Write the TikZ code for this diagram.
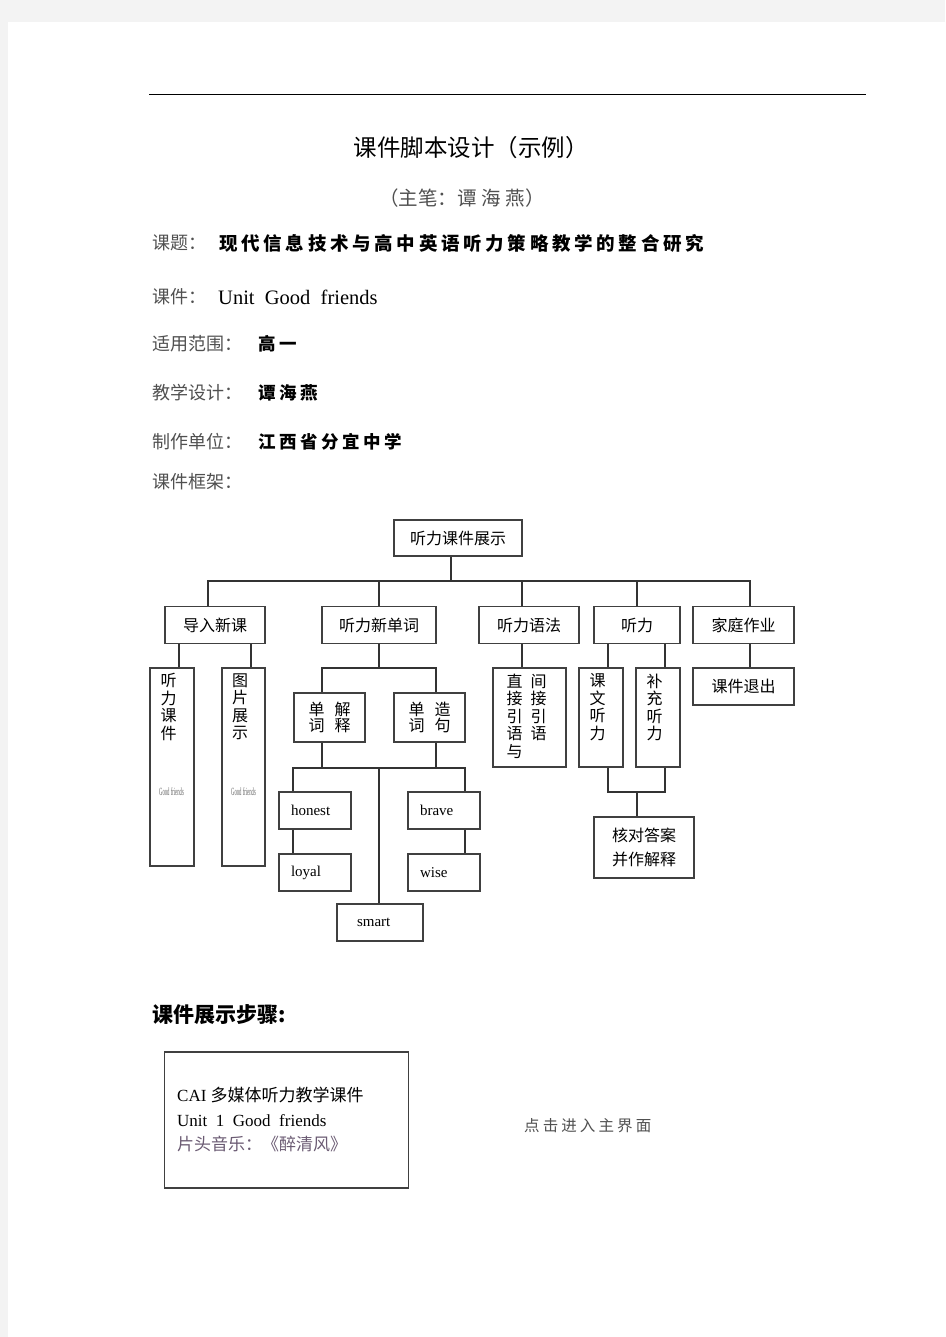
\documentclass[tikz,border=0pt]{standalone}
\usepackage{fontspec}
\setmainfont{Liberation Serif}
\newfontfamily\cjk{Noto Sans CJK SC}
\newfontfamily\cjkwide[LetterSpace=20]{Noto Sans CJK SC}
\usetikzlibrary{shadows}
\definecolor{pagegray}{HTML}{F3F3F3}
\definecolor{labelgray}{HTML}{505050}
\definecolor{linegray}{HTML}{404040}
\definecolor{musicpurple}{HTML}{6B5B73}
\newcommand{\fsz}[1]{\fontsize{#1}{#1}\selectfont}

\begin{document}
\begin{tikzpicture}[x=1pt,y=-1pt,
  unitbox/.style={draw=linegray, line width=1.2pt, fill=white, inner sep=0pt, font=\cjk\fsz{16}},
  tallbox/.style={unitbox, drop shadow={shadow xshift=0.9pt, shadow yshift=-1.3pt, fill=black!75, opacity=1}},
  wordbox/.style={unitbox, font=\fsz{15}, align=left, text width=48pt, inner xsep=12pt, minimum height=37pt},
  vtext/.style={font=\cjk\fontsize{16}{17.5}\selectfont, align=center, inner sep=0pt, anchor=north},
  link/.style={draw=black!80, line width=1.1pt},
  fieldlbl/.style={anchor=west, inner sep=0pt, font=\cjk\fsz{18}, text=labelgray},
  fieldval/.style={anchor=west, inner sep=0pt, font=\cjkwide\bfseries\fsz{17.5}}]
\useasboundingbox (0,0) rectangle (945,1337);
\fill[pagegray] (0,0) rectangle (945,1337);
\fill[white] (8,22) rectangle (945,1337);

% header
\draw[black, line width=1pt] (149,95) -- (866,95);
\node[font=\cjk\fsz{23.5}] (title) at (471,148) {课件脚本设计（示例）};
\node[font=\cjk\fsz{19.5}, text=labelgray] (author) at (462,198) {（主笔：谭\hspace{5pt}海\hspace{5pt}燕）};

\node[fieldlbl] (l1) at (152,243) {课题：};
\node[fieldval, font=\cjkwide\bfseries\fsz{18.5}] (v1) at (219,243) {现代信息技术与高中英语听力策略教学的整合研究};
\node[fieldlbl] (l2) at (152,297) {课件：};
\node[anchor=west, inner sep=0pt, font=\fsz{20.5}] (v2) at (218,297) {Unit\ \ Good\ \ friends};
\node[fieldlbl] (l3) at (152,344) {适用范围：};
\node[fieldval] (v3) at (258,344) {高一};
\node[fieldlbl] (l4) at (152,393) {教学设计：};
\node[fieldval] (v4) at (258,393) {谭海燕};
\node[fieldlbl] (l5) at (152,442) {制作单位：};
\node[fieldval] (v5) at (258,442) {江西省分宜中学};
\node[fieldlbl] (l6) at (152,482) {课件框架：};

% framework tree
\node[unitbox, minimum width=128pt, minimum height=36pt] (root) at (458,538) {听力课件展示};
\node[unitbox, minimum width=100pt, minimum height=37pt] (dr) at (215,625) {导入新课};
\node[unitbox, minimum width=114pt, minimum height=37pt] (tx) at (379,625) {听力新单词};
\node[unitbox, minimum width=100pt, minimum height=37pt] (yf) at (529,625) {听力语法};
\node[unitbox, minimum width=86pt, minimum height=37pt] (tl) at (637,625) {听力};
\node[unitbox, minimum width=101pt, minimum height=37pt] (jt) at (743.5,625) {家庭作业};

\coordinate (bus) at (451,581);
\draw[link] (bus |- root.south) -- (bus);
\foreach \n/\s in {dr/-7,tx/0,yf/-7,tl/0,jt/6.5}
  \draw[link] (bus) -| ([xshift=\s pt]\n.north);

% under 导入新课
\node[tallbox, minimum width=44pt, minimum height=198pt] (tk) at (172,767) {};
\node[tallbox, minimum width=43pt, minimum height=198pt] (tp) at (243.5,767) {};
\node[vtext, xshift=-3.5pt] (tkt) at ([yshift=-6pt]tk.north) {听\\力\\课\\件};
\node[vtext, xshift=-3.5pt] (tpt) at ([yshift=-6pt]tp.north) {图\\片\\展\\示};
\node[font=\fsz{11}, text=black!60, inner sep=0pt] (tkg) at (171.5,792) {\scalebox{0.43}[1]{Good friends}};
\node[font=\fsz{11}, text=black!60, inner sep=0pt] (tpg) at (243.5,792) {\scalebox{0.43}[1]{Good friends}};
\coordinate (tka) at ([xshift=7pt]tk.north);
\coordinate (tpa) at ([xshift=7.5pt]tp.north);
\draw[link] (tka) -- (tka |- dr.south);
\draw[link] (tpa) -- (tpa |- dr.south);

% under 听力新单词
\node[tallbox, minimum width=71pt, minimum height=49pt, align=center, font=\cjk\fontsize{16}{16.5}\selectfont] (dj) at (329.5,717.5) {单\hspace{10pt}解\\词\hspace{10pt}释};
\node[tallbox, minimum width=71pt, minimum height=49pt, align=center, font=\cjk\fontsize{16}{16.5}\selectfont] (dz) at (429.5,717.5) {单\hspace{10pt}造\\词\hspace{10pt}句};
\coordinate (b2) at (379,668);
\draw[link] (tx.south) -- (b2);
\draw[link] (b2) -| ([xshift=-7.5pt]dj.north);
\draw[link] (b2) -| ([xshift=6.5pt]dz.north);

\node[wordbox] (ho) at (315,810.5) {honest};
\node[wordbox] (lo) at (315,872.5) {loyal};
\node[wordbox] (br) at (444,810.5) {brave};
\node[wordbox] (wi) at (444,872.5) {wise};
\node[wordbox, text width=46pt, inner xsep=20pt] (sm) at (380,922.5) {smart};
\coordinate (b3) at (379,768);
\coordinate (djb) at ([xshift=-7.5pt]dj.south);
\coordinate (dzb) at ([xshift=6.5pt]dz.south);
\coordinate (hoa) at ([xshift=-22pt]ho.north);
\coordinate (bra) at ([xshift=21pt]br.north);
\coordinate (hob) at ([xshift=-22pt]ho.south);
\coordinate (brb) at ([xshift=21pt]br.south);
\draw[link] (djb) -- (djb |- b3);
\draw[link] (dzb) -- (dzb |- b3);
\draw[link] (hoa) |- (b3) -| (bra);
\draw[link] (b3) -- (b3 |- sm.north);
\draw[link] (hob) -- (hob |- lo.north);
\draw[link] (brb) -- (brb |- wi.north);

% under 听力语法
\node[unitbox, minimum width=73pt, minimum height=99pt] (zj) at (529.5,717.5) {};
\node[vtext, align=left, xshift=-3pt] (zjt) at ([yshift=-6pt]zj.north) {直\hspace{8pt}间\\接\hspace{8pt}接\\引\hspace{8pt}引\\语\hspace{8pt}语\\与};
\coordinate (yfb) at ([xshift=-7pt]yf.south);
\draw[link] (yfb) -- (yfb |- zj.north);

% under 听力
\node[unitbox, minimum width=44pt, minimum height=99pt] (kw) at (601,717.5) {};
\node[unitbox, minimum width=44pt, minimum height=99pt] (bc) at (658,717.5) {};
\node[vtext, xshift=-3.5pt] (kwt) at ([yshift=-6pt]kw.north) {课\\文\\听\\力};
\node[vtext, xshift=-3.5pt] (bct) at ([yshift=-6pt]bc.north) {补\\充\\听\\力};
\coordinate (kwa) at ([xshift=7pt]kw.north);
\coordinate (bca) at ([xshift=7pt]bc.north);
\draw[link] (kwa) -- (kwa |- tl.south);
\draw[link] (bca) -- (bca |- tl.south);
\node[unitbox, minimum width=100pt, minimum height=61pt, align=center, font=\cjk\fontsize{16}{24}\selectfont] (hd) at (644,847.5) {核对答案\\并作解释};
\coordinate (b4) at (637,792);
\draw[link] ([xshift=7pt]kw.south) |- (b4) -| ([xshift=7pt]bc.south);
\draw[link] (b4) -- (b4 |- hd.north);

% under 家庭作业
\node[unitbox, minimum width=101pt, minimum height=37pt] (tc) at (743.5,686.5) {课件退出};
\coordinate (jtb) at ([xshift=6.5pt]jt.south);
\draw[link] (jtb) -- (jtb |- tc.north);

% steps
\node[anchor=west, inner sep=0pt, font=\cjk\bfseries\fsz{21}] (steps) at (152,1015) {课件展示步骤:};
\node[draw=linegray, line width=1.2pt, minimum width=244pt, minimum height=136pt] (cai) at (286.5,1120) {};
\node[anchor=west, inner sep=0pt, align=left, font=\fontsize{17}{24.5}\selectfont] (caitxt) at (177,1120)
  {CAI {\cjk 多媒体听力教学课件}\\Unit\ \ 1\ \ Good\ \ friends\\{\cjk\color{musicpurple}片头音乐：《醉清风》}};
\node[anchor=west, inner sep=0pt, font=\cjkwide\fsz{15.5}, text=labelgray] (enter) at (524,1126) {点击进入主界面};
\end{tikzpicture}
\end{document}
